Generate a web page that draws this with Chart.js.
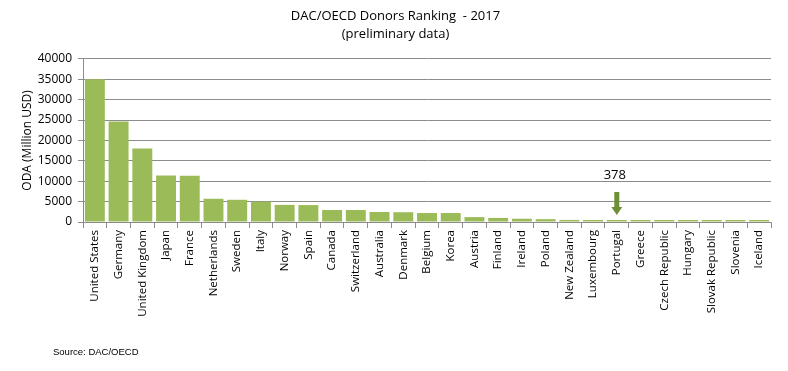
<!DOCTYPE html>
<html>
<head>
<meta charset="utf-8">
<script src="https://cdn.jsdelivr.net/npm/chart.js@4"></script>
<style>
    body { margin: 0; background: #fff; }
    #wrap { width: 788px; height: 371px; }
</style>
</head>
<body>
<div id="wrap"><canvas id="donors_chart" width="788" height="371"></canvas></div>
<script>
const countries = [
    'United States', 'Germany', 'United Kingdom', 'Japan', 'France',
    'Netherlands', 'Sweden', 'Italy', 'Norway', 'Spain',
    'Canada', 'Switzerland', 'Australia', 'Denmark', 'Belgium',
    'Korea', 'Austria', 'Finland', 'Ireland', 'Poland',
    'New Zealand', 'Luxembourg', 'Portugal', 'Greece', 'Czech Republic',
    'Hungary', 'Slovak Republic', 'Slovenia', 'Iceland'
];

const odaValues = [
    35000, 24650, 18000, 11400, 11350,
    5700, 5450, 5000, 4200, 4150,
    2950, 2950, 2450, 2400, 2200,
    2200, 1200, 1000, 800, 700,
    500, 420, 378, 310, 300,
    150, 120, 80, 60
];

const yTicks = [0, 5000, 10000, 15000, 20000, 25000, 30000, 35000, 40000];

const highlightCountry = 'Portugal';

const FONT = "'Open Sans', 'Liberation Sans', sans-serif";

// arrow + label pointing at Portugal, plus the source note
const notePlugin = {
    id: 'notes',
    afterDatasetsDraw(chart) {
        const ctx = chart.ctx;
        const idx = countries.indexOf(highlightCountry);
        const bar = chart.getDatasetMeta(0).data[idx];
        const x = bar.x;
        const tip = bar.y - 5;
        const top = tip - 23;

        ctx.save();
        ctx.fillStyle = '#6f8f37';
        ctx.fillRect(x - 2.5, top, 5, 16);
        ctx.beginPath();
        ctx.moveTo(x - 5.5, tip - 8);
        ctx.lineTo(x + 5.5, tip - 8);
        ctx.lineTo(x, tip);
        ctx.closePath();
        ctx.fill();

        ctx.fillStyle = '#000';
        ctx.font = '13px ' + FONT;
        ctx.textAlign = 'center';
        ctx.textBaseline = 'middle';
        ctx.fillText(String(odaValues[idx]), x - 2, top - 17);

        ctx.font = "9.5px 'Liberation Sans', Arial, sans-serif";
        ctx.textAlign = 'left';
        ctx.fillText('Source: DAC/OECD', 53, 352);
        ctx.restore();
    }
};

function donors_chart() {

    const data = {
        labels: countries,
        datasets: [{
            label: 'ODA',
            data: odaValues,
            backgroundColor: '#9bbb59',
            borderWidth: 0,
            minBarLength: 2,
            barPercentage: 0.84,
            categoryPercentage: 1.0
        }]
    };

    const config = {
        type: 'bar',
        data: data,
        options: {
            responsive: false,
            animation: false,
            layout: {
                padding: { left: 20, right: 17, top: 0, bottom: 44 }
            },
            plugins: {
                legend: { display: false },
                tooltip: { enabled: false },
                title: {
                    display: true,
                    text: ['DAC/OECD Donors Ranking  - 2017', '(preliminary data)'],
                    color: '#000',
                    font: { family: FONT, size: 13, weight: 'normal', lineHeight: 1.38 },
                    padding: { top: 7, bottom: 16 }
                }
            },
            scales: {
                x: {
                    grid: {
                        offset: true,
                        drawOnChartArea: false,
                        color: '#8c8c8c',
                        tickLength: 6
                    },
                    border: { color: '#8c8c8c' },
                    ticks: {
                        minRotation: 90,
                        maxRotation: 90,
                        autoSkip: false,
                        color: '#000',
                        padding: 2,
                        font: { family: FONT, size: 11.5 }
                    },
                    afterFit(scale) { scale.height = 105; }
                },
                y: {
                    min: 0,
                    max: 40000,
                    afterBuildTicks(scale) {
                        scale.ticks = yTicks.map(v => ({ value: v }));
                    },
                    grid: {
                        color: '#8c8c8c',
                        tickLength: 5
                    },
                    border: { color: '#8c8c8c' },
                    ticks: {
                        color: '#000',
                        padding: 6,
                        font: { family: FONT, size: 12 },
                        callback: v => String(v)
                    },
                    title: {
                        display: true,
                        text: 'ODA (Million USD)',
                        color: '#000',
                        font: { family: FONT, size: 12 },
                        padding: { top: 0, bottom: 4 }
                    },
                    afterFit(scale) { scale.width = 63; }
                }
            }
        },
        plugins: [notePlugin]
    };

    const myChart = new Chart(
        document.getElementById('donors_chart'),
        config
    );
}

donors_chart();
</script>
</body>
</html>
